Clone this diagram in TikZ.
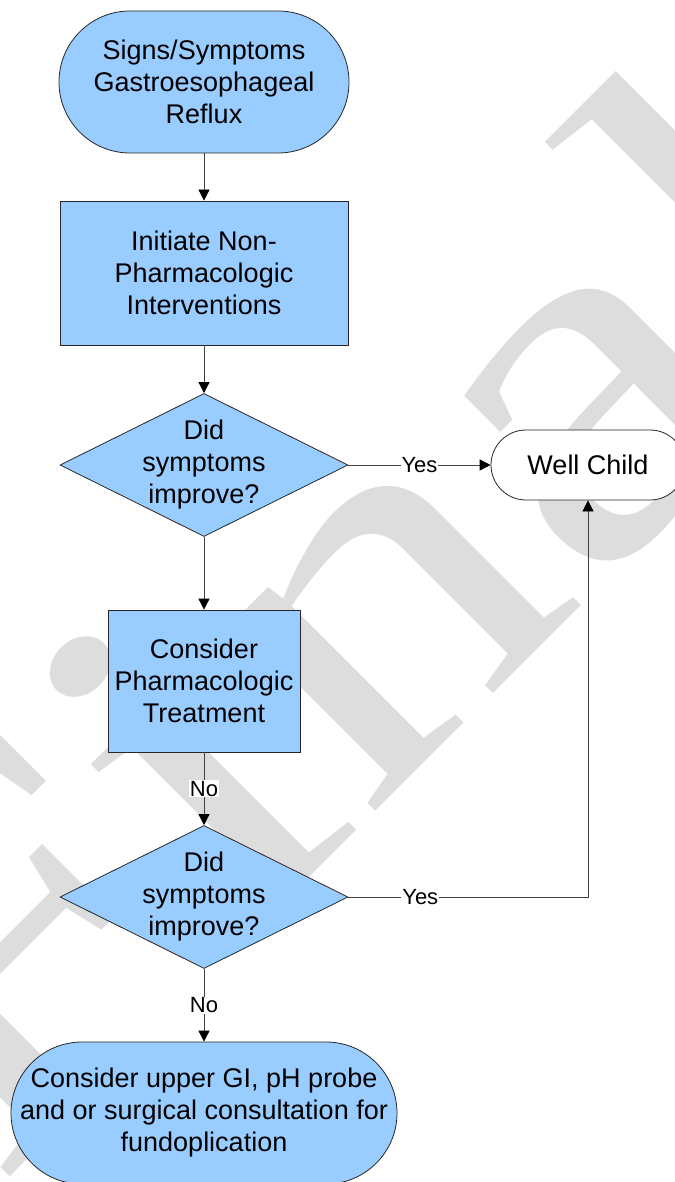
\documentclass[tikz,border=0pt]{standalone}
\usepackage{fontspec}
\setmainfont{Liberation Sans}
\newfontfamily\markfont{Liberation Serif}[FakeStretch=1.235]
\usepackage{tikz}
\usetikzlibrary{arrows.meta, positioning, calc, shapes.geometric}

\begin{document}
\begin{tikzpicture}[x=1pt,y=-1pt,>={Triangle[length=11pt,width=11pt,color=black]}]

% Colors
\definecolor{flowblue}{RGB}{153,204,255}
\definecolor{linegray}{RGB}{64,64,64}
\definecolor{markgray}{RGB}{221,221,221}

\tikzset{
  base/.style={draw=black!85, line width=0.8pt, align=center, font=\fontsize{27}{32}\selectfont},
  terminal/.style={base, rectangle, fill=flowblue, rounded corners=71pt, inner sep=2pt, minimum width=290pt, minimum height=142pt},
  process/.style={base, rectangle, fill=flowblue, inner sep=2pt},
  decision/.style={base, diamond, aspect=2, fill=flowblue, inner sep=-12pt, minimum width=288pt, minimum height=143pt},
  link/.style={draw=linegray, line width=0.8pt, ->},
  answer/.style={fill=white, inner sep=1pt, font=\fontsize{22}{24}\selectfont}
}

\useasboundingbox (0,0) rectangle (674,1182);

% Watermark
\begin{scope}
  \clip (0,0) rectangle (674,1182);
  \node[anchor=base west, rotate=45, inner sep=0pt, text=markgray, font=\markfont\fontsize{510}{510}\selectfont] (mark) at (-6,1193) {Final};
\end{scope}

% Nodes
\node[terminal] (start) at (204,82) {Signs/Symptoms\\Gastroesophageal\\Reflux};
\node[process, minimum width=288pt, minimum height=144pt] (nonpharm) at (204,273) {Initiate Non-\\Pharmacologic\\Interventions};
\node[decision] (improve1) at (204,465) {Did\\symptoms\\improve?};
\node[terminal, fill=white, rounded corners=35pt, minimum width=194pt, minimum height=70pt] (well) at (588,465) {Well Child};
\node[process, minimum width=192pt, minimum height=142pt] (pharm) at (204,681) {Consider\\Pharmacologic\\Treatment};
\node[decision] (improve2) at (204,897) {Did\\symptoms\\improve?};
\node[terminal, minimum width=386pt] (surgery) at (204,1113) {Consider upper GI, pH probe\\and or surgical consultation for\\fundoplication};

% Connections: main flow
\foreach \a/\b in {start/nonpharm, nonpharm/improve1, improve1/pharm} {
    \draw[link] (\a.south) -- (\b.north);
}

\draw[link] (pharm.south) -- node[answer] (no1) {No} (improve2.north);
\draw[link] (improve2.south) -- node[answer] (no2) {No} (surgery.north);

% Connections: to well child
\draw[link] (improve1.east) -- node[answer] (yes1) {Yes} (well.west);
\draw[link] (improve2.east) -| node[answer, pos=0.15] (yes2) {Yes} (well.south);

\end{tikzpicture}
\end{document}
